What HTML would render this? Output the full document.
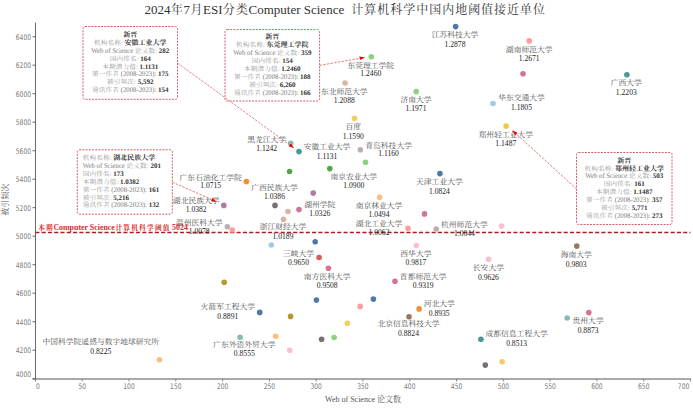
<!DOCTYPE html><html><head><meta charset="utf-8"><style>html,body{margin:0;padding:0;background:#fff;}svg{display:block}.bx{text-rendering:geometricPrecision}.t{font-family:"Liberation Serif", "Noto Serif CJK SC", serif;}.tk{font-family:"DejaVu Sans", sans-serif;font-size:7px;fill:#7a7a7a;}.lb{font-family:"Liberation Serif", "Noto Serif CJK SC", serif;font-size:7.8px;fill:#505050;text-anchor:middle;}.vl{font-family:"Liberation Serif", "Noto Serif CJK SC", serif;font-size:7.6px;fill:#222;text-anchor:middle;}.bx{font-family:"Liberation Serif", "Noto Serif CJK SC", serif;font-size:6.75px;fill:#a8a8a8;}.bx tspan.b{font-weight:bold;fill:#333;font-size:7.0px;}.bx tspan.lt{fill:#7a7a7a;font-size:7.3px;}.bx tspan.c{font-size:6.6px;letter-spacing:0.15px;fill:#999;}</style></head><body>
<svg width="693" height="409" viewBox="0 0 693 409">
<defs><marker id="ar" viewBox="0 0 10 10" refX="9" refY="5" markerWidth="5.5" markerHeight="5.5" orient="auto" markerUnits="userSpaceOnUse"><path d="M0,1.8 L10,5 L0,8.2 z" fill="#e00"/></marker></defs>
<text class="t" x="144.5" y="14.2" font-size="13" fill="#333" xml:space="preserve">2024<tspan dx="0.52" style="font-size:11.96px;letter-spacing:1.04px">年</tspan><tspan dx="-0.52">7</tspan><tspan dx="0.52" style="font-size:11.96px;letter-spacing:1.04px">月</tspan><tspan dx="-0.52">ESI</tspan><tspan dx="0.52" style="font-size:11.96px;letter-spacing:1.04px">分类</tspan><tspan dx="-0.52">Computer Science  </tspan><tspan dx="0.52" style="font-size:11.96px;letter-spacing:1.04px">计算机科学中国内地阈值接近单位</tspan></text>
<line x1="35.5" y1="22.5" x2="35.5" y2="381" stroke="#686868" stroke-width="1"/>
<line x1="32.5" y1="379" x2="690.5" y2="379" stroke="#555" stroke-width="1"/>
<line x1="32.5" y1="378.70" x2="35.5" y2="378.70" stroke="#666" stroke-width="1"/>
<text class="tk" transform="translate(31,377.00) scale(0.855,1.1)" text-anchor="end">4000</text>
<line x1="32.5" y1="350.20" x2="35.5" y2="350.20" stroke="#666" stroke-width="1"/>
<text class="tk" transform="translate(31,353.10) scale(0.855,1.1)" text-anchor="end">4200</text>
<line x1="32.5" y1="321.70" x2="35.5" y2="321.70" stroke="#666" stroke-width="1"/>
<text class="tk" transform="translate(31,324.60) scale(0.855,1.1)" text-anchor="end">4400</text>
<line x1="32.5" y1="293.20" x2="35.5" y2="293.20" stroke="#666" stroke-width="1"/>
<text class="tk" transform="translate(31,296.10) scale(0.855,1.1)" text-anchor="end">4600</text>
<line x1="32.5" y1="264.70" x2="35.5" y2="264.70" stroke="#666" stroke-width="1"/>
<text class="tk" transform="translate(31,267.60) scale(0.855,1.1)" text-anchor="end">4800</text>
<line x1="32.5" y1="236.20" x2="35.5" y2="236.20" stroke="#666" stroke-width="1"/>
<text class="tk" transform="translate(31,239.10) scale(0.855,1.1)" text-anchor="end">5000</text>
<line x1="32.5" y1="207.70" x2="35.5" y2="207.70" stroke="#666" stroke-width="1"/>
<text class="tk" transform="translate(31,210.60) scale(0.855,1.1)" text-anchor="end">5200</text>
<line x1="32.5" y1="179.20" x2="35.5" y2="179.20" stroke="#666" stroke-width="1"/>
<text class="tk" transform="translate(31,182.10) scale(0.855,1.1)" text-anchor="end">5400</text>
<line x1="32.5" y1="150.70" x2="35.5" y2="150.70" stroke="#666" stroke-width="1"/>
<text class="tk" transform="translate(31,153.60) scale(0.855,1.1)" text-anchor="end">5600</text>
<line x1="32.5" y1="122.20" x2="35.5" y2="122.20" stroke="#666" stroke-width="1"/>
<text class="tk" transform="translate(31,125.10) scale(0.855,1.1)" text-anchor="end">5800</text>
<line x1="32.5" y1="93.70" x2="35.5" y2="93.70" stroke="#666" stroke-width="1"/>
<text class="tk" transform="translate(31,96.60) scale(0.855,1.1)" text-anchor="end">6000</text>
<line x1="32.5" y1="65.20" x2="35.5" y2="65.20" stroke="#666" stroke-width="1"/>
<text class="tk" transform="translate(31,68.10) scale(0.855,1.1)" text-anchor="end">6200</text>
<line x1="32.5" y1="36.70" x2="35.5" y2="36.70" stroke="#666" stroke-width="1"/>
<text class="tk" transform="translate(31,39.60) scale(0.855,1.1)" text-anchor="end">6400</text>
<line x1="35.40" y1="378.7" x2="35.40" y2="381.5" stroke="#888" stroke-width="1"/>
<text class="tk" transform="translate(37.90,389.3) scale(0.855,1.1)" text-anchor="middle">0</text>
<line x1="82.19" y1="378.7" x2="82.19" y2="381.5" stroke="#888" stroke-width="1"/>
<text class="tk" transform="translate(82.19,389.3) scale(0.855,1.1)" text-anchor="middle">50</text>
<line x1="128.99" y1="378.7" x2="128.99" y2="381.5" stroke="#888" stroke-width="1"/>
<text class="tk" transform="translate(128.99,389.3) scale(0.855,1.1)" text-anchor="middle">100</text>
<line x1="175.78" y1="378.7" x2="175.78" y2="381.5" stroke="#888" stroke-width="1"/>
<text class="tk" transform="translate(175.78,389.3) scale(0.855,1.1)" text-anchor="middle">150</text>
<line x1="222.58" y1="378.7" x2="222.58" y2="381.5" stroke="#888" stroke-width="1"/>
<text class="tk" transform="translate(222.58,389.3) scale(0.855,1.1)" text-anchor="middle">200</text>
<line x1="269.38" y1="378.7" x2="269.38" y2="381.5" stroke="#888" stroke-width="1"/>
<text class="tk" transform="translate(269.38,389.3) scale(0.855,1.1)" text-anchor="middle">250</text>
<line x1="316.17" y1="378.7" x2="316.17" y2="381.5" stroke="#888" stroke-width="1"/>
<text class="tk" transform="translate(316.17,389.3) scale(0.855,1.1)" text-anchor="middle">300</text>
<line x1="362.96" y1="378.7" x2="362.96" y2="381.5" stroke="#888" stroke-width="1"/>
<text class="tk" transform="translate(362.96,389.3) scale(0.855,1.1)" text-anchor="middle">350</text>
<line x1="409.76" y1="378.7" x2="409.76" y2="381.5" stroke="#888" stroke-width="1"/>
<text class="tk" transform="translate(409.76,389.3) scale(0.855,1.1)" text-anchor="middle">400</text>
<line x1="456.55" y1="378.7" x2="456.55" y2="381.5" stroke="#888" stroke-width="1"/>
<text class="tk" transform="translate(456.55,389.3) scale(0.855,1.1)" text-anchor="middle">450</text>
<line x1="503.35" y1="378.7" x2="503.35" y2="381.5" stroke="#888" stroke-width="1"/>
<text class="tk" transform="translate(503.35,389.3) scale(0.855,1.1)" text-anchor="middle">500</text>
<line x1="550.14" y1="378.7" x2="550.14" y2="381.5" stroke="#888" stroke-width="1"/>
<text class="tk" transform="translate(550.14,389.3) scale(0.855,1.1)" text-anchor="middle">550</text>
<line x1="596.94" y1="378.7" x2="596.94" y2="381.5" stroke="#888" stroke-width="1"/>
<text class="tk" transform="translate(596.94,389.3) scale(0.855,1.1)" text-anchor="middle">600</text>
<line x1="643.73" y1="378.7" x2="643.73" y2="381.5" stroke="#888" stroke-width="1"/>
<text class="tk" transform="translate(643.73,389.3) scale(0.855,1.1)" text-anchor="middle">650</text>
<line x1="690.53" y1="378.7" x2="690.53" y2="381.5" stroke="#888" stroke-width="1"/>
<text class="tk" transform="translate(683.53,389.3) scale(0.855,1.1)" text-anchor="middle">700</text>
<text class="t" x="363" y="402" font-size="8" fill="#555" text-anchor="middle">Web of Science 论文数</text>
<text class="t" transform="translate(7.5,199.7) rotate(-90)" font-size="8" fill="#555" text-anchor="middle">被引频次</text>
<line x1="35.3" y1="232.4" x2="690.5" y2="232.4" stroke="#a82025" stroke-width="1.5" stroke-dasharray="4.1,2.19"/>
<text class="t" x="37.6" y="230" font-size="7.9" font-weight="bold" fill="#d62a2a" xml:space="preserve"><tspan dx="0.59" style="font-size:6.71px;letter-spacing:1.19px">本期</tspan><tspan dx="-0.59">Computer Science</tspan><tspan dx="0.59" style="font-size:6.71px;letter-spacing:1.19px">计算机科学阈值</tspan><tspan dx="-0.59"> 5024</tspan></text>
<circle cx="455.6" cy="26.6" r="2.8" fill="#4e79a7"/>
<circle cx="529.2" cy="40.9" r="2.8" fill="#ff9d9a"/>
<circle cx="371.3" cy="56.8" r="2.8" fill="#8cd17d"/>
<circle cx="523" cy="73.8" r="2.8" fill="#d37295"/>
<circle cx="626.9" cy="74.7" r="2.8" fill="#499894"/>
<circle cx="345.1" cy="83" r="2.8" fill="#d7b5a6"/>
<circle cx="416.2" cy="91.6" r="2.8" fill="#8cd17d"/>
<circle cx="493" cy="103.5" r="2.8" fill="#a0cbe8"/>
<circle cx="354.5" cy="118.4" r="2.8" fill="#f1ce63"/>
<circle cx="506.1" cy="126.1" r="2.8" fill="#edc948"/>
<circle cx="290.7" cy="143.3" r="2.8" fill="#86bcb6"/>
<circle cx="299" cy="151.6" r="2.8" fill="#499894"/>
<circle cx="360.3" cy="149.8" r="2.8" fill="#bab0ac"/>
<circle cx="365.5" cy="162.3" r="2.8" fill="#8cd17d"/>
<circle cx="329.8" cy="168.6" r="2.8" fill="#59a14f"/>
<circle cx="289.6" cy="171.5" r="2.8" fill="#59a14f"/>
<circle cx="439.9" cy="173.6" r="2.8" fill="#4e79a7"/>
<circle cx="246.4" cy="181.6" r="2.8" fill="#f28e2b"/>
<circle cx="313.2" cy="193.1" r="2.8" fill="#b07aa1"/>
<circle cx="379.6" cy="197.3" r="2.8" fill="#ffbe7d"/>
<circle cx="223.8" cy="205.4" r="2.8" fill="#b07aa1"/>
<circle cx="275" cy="205.4" r="2.8" fill="#79706e"/>
<circle cx="299" cy="209.6" r="2.8" fill="#d37295"/>
<circle cx="288" cy="211.5" r="2.8" fill="#d7b5a6"/>
<circle cx="424.5" cy="213.9" r="2.8" fill="#d37295"/>
<circle cx="283.5" cy="219.4" r="2.8" fill="#d7b5a6"/>
<circle cx="227.4" cy="226.7" r="2.8" fill="#bab0ac"/>
<circle cx="232.3" cy="230" r="2.8" fill="#ff9d9a"/>
<circle cx="408" cy="228.3" r="2.8" fill="#ff9d9a"/>
<circle cx="436.2" cy="229" r="2.8" fill="#bab0ac"/>
<circle cx="501.5" cy="226.1" r="2.8" fill="#fabfd2"/>
<circle cx="271.3" cy="245" r="2.8" fill="#a0cbe8"/>
<circle cx="315.2" cy="241.8" r="2.8" fill="#4e79a7"/>
<circle cx="416.4" cy="245.5" r="2.8" fill="#fabfd2"/>
<circle cx="576.8" cy="246.1" r="2.8" fill="#9d7660"/>
<circle cx="319.1" cy="257.5" r="2.8" fill="#e15759"/>
<circle cx="488.6" cy="259.3" r="2.8" fill="#fabfd2"/>
<circle cx="328.4" cy="268.2" r="2.8" fill="#d37295"/>
<circle cx="395" cy="281.2" r="2.8" fill="#d37295"/>
<circle cx="224.2" cy="282.2" r="2.8" fill="#b6992d"/>
<circle cx="316.4" cy="300.1" r="2.8" fill="#4e79a7"/>
<circle cx="373.4" cy="299.1" r="2.8" fill="#4e79a7"/>
<circle cx="360.2" cy="306.4" r="2.8" fill="#ff9d9a"/>
<circle cx="419.1" cy="308.9" r="2.8" fill="#f28e2b"/>
<circle cx="259.7" cy="312.4" r="2.8" fill="#4e79a7"/>
<circle cx="290.6" cy="316.4" r="2.8" fill="#b6992d"/>
<circle cx="409" cy="316.7" r="2.8" fill="#9d7660"/>
<circle cx="347.4" cy="323.2" r="2.8" fill="#f1ce63"/>
<circle cx="567.2" cy="318" r="2.8" fill="#86bcb6"/>
<circle cx="588.8" cy="312.6" r="2.8" fill="#d37295"/>
<circle cx="240.1" cy="337.3" r="2.8" fill="#86bcb6"/>
<circle cx="275.7" cy="336.3" r="2.8" fill="#ffbe7d"/>
<circle cx="321.6" cy="339.3" r="2.8" fill="#79706e"/>
<circle cx="334.1" cy="337.5" r="2.8" fill="#8cd17d"/>
<circle cx="480.9" cy="339.2" r="2.8" fill="#499894"/>
<circle cx="289.7" cy="350.3" r="2.8" fill="#fabfd2"/>
<circle cx="485.3" cy="365.1" r="2.8" fill="#79706e"/>
<circle cx="502.2" cy="361.7" r="2.8" fill="#f1ce63"/>
<circle cx="159.5" cy="359.7" r="2.8" fill="#ffbe7d"/>
<text class="lb" transform="translate(455,37.22) scale(1,0.85)">江苏科技大学</text>
<text class="vl" x="455" y="46.50">1.2878</text>
<text class="lb" transform="translate(529.2,51.92) scale(1,0.85)">湖南师范大学</text>
<text class="vl" x="529.2" y="61.30">1.2671</text>
<text class="lb" transform="translate(370.8,67.62) scale(1,0.85)">东莞理工学院</text>
<text class="vl" x="370.8" y="76.10">1.2460</text>
<text class="lb" transform="translate(626.3,85.12) scale(1,0.85)">广西大学</text>
<text class="vl" x="626.3" y="94.50">1.2203</text>
<text class="lb" transform="translate(344.3,93.82) scale(1,0.85)">东北师范大学</text>
<text class="vl" x="344.3" y="102.60">1.2088</text>
<text class="lb" transform="translate(416,102.42) scale(1,0.85)">济南大学</text>
<text class="vl" x="416" y="110.70">1.1971</text>
<text class="lb" transform="translate(521.5,100.42) scale(1,0.85)">华东交通大学</text>
<text class="vl" x="521.5" y="109.90">1.1805</text>
<text class="lb" transform="translate(353.3,128.52) scale(1,0.85)">百度</text>
<text class="vl" x="353.3" y="138.50">1.1590</text>
<text class="lb" transform="translate(505.8,136.52) scale(1,0.85)">郑州轻工业大学</text>
<text class="vl" x="505.8" y="145.90">1.1487</text>
<text class="lb" transform="translate(266.7,141.52) scale(1,0.85)">黑龙江大学</text>
<text class="vl" x="266.7" y="150.70">1.1242</text>
<text class="lb" transform="translate(327,149.32) scale(1,0.85)">安徽工业大学</text>
<text class="vl" x="327" y="158.90">1.1131</text>
<text class="lb" transform="translate(388.6,147.62) scale(1,0.85)">青岛科技大学</text>
<text class="vl" x="388.6" y="156.40">1.1160</text>
<text class="lb" transform="translate(353.8,179.22) scale(1,0.85)">南京农业大学</text>
<text class="vl" x="353.8" y="188.30">1.0900</text>
<text class="lb" transform="translate(439.4,183.72) scale(1,0.85)">天津工业大学</text>
<text class="vl" x="439.4" y="193.70">1.0824</text>
<text class="lb" transform="translate(210.7,179.72) scale(1,0.85)">广东石油化工学院</text>
<text class="vl" x="210.7" y="187.60">1.0715</text>
<text class="lb" transform="translate(274.5,189.72) scale(1,0.85)">广西民族大学</text>
<text class="vl" x="274.5" y="199.20">1.0386</text>
<text class="lb" transform="translate(379,207.72) scale(1,0.85)">南京林业大学</text>
<text class="vl" x="379" y="217.20">1.0494</text>
<text class="lb" transform="translate(196.2,203.12) scale(1,0.85)">湖北民族大学</text>
<text class="vl" x="196.2" y="211.70">1.0382</text>
<text class="lb" transform="translate(319.8,207.42) scale(1,0.85)">湖州学院</text>
<text class="vl" x="319.8" y="216.10">1.0326</text>
<text class="lb" transform="translate(199.2,224.72) scale(1,0.85)">温州医科大学</text>
<text class="vl" x="199.2" y="233.50">1.0078</text>
<text class="lb" transform="translate(283,229.42) scale(1,0.85)">浙江财经大学</text>
<text class="vl" x="283" y="238.90">1.0189</text>
<text class="lb" transform="translate(379,226.42) scale(1,0.85)">湖北工业大学</text>
<text class="vl" x="379" y="235.20">1.0062</text>
<text class="lb" transform="translate(464.4,227.42) scale(1,0.85)">杭州师范大学</text>
<text class="vl" x="464.4" y="236.10">1.0044</text>
<text class="lb" transform="translate(415.9,255.82) scale(1,0.85)">西华大学</text>
<text class="vl" x="415.9" y="265.10">0.9817</text>
<text class="lb" transform="translate(576.2,257.12) scale(1,0.85)">海南大学</text>
<text class="vl" x="576.2" y="266.50">0.9803</text>
<text class="lb" transform="translate(298.5,255.52) scale(1,0.85)">三峡大学</text>
<text class="vl" x="298.5" y="265.00">0.9650</text>
<text class="lb" transform="translate(488.4,270.12) scale(1,0.85)">长安大学</text>
<text class="vl" x="488.4" y="279.60">0.9626</text>
<text class="lb" transform="translate(327.2,279.02) scale(1,0.85)">南方医科大学</text>
<text class="vl" x="327.2" y="288.30">0.9508</text>
<text class="lb" transform="translate(423.2,279.02) scale(1,0.85)">首都师范大学</text>
<text class="vl" x="423.2" y="288.00">0.9319</text>
<text class="lb" transform="translate(439.2,306.22) scale(1,0.85)">河北大学</text>
<text class="vl" x="439.2" y="315.50">0.8935</text>
<text class="lb" transform="translate(227.8,309.42) scale(1,0.85)">火箭军工程大学</text>
<text class="vl" x="227.8" y="318.90">0.8891</text>
<text class="lb" transform="translate(408.5,326.32) scale(1,0.85)">北京信息科技大学</text>
<text class="vl" x="408.5" y="336.30">0.8824</text>
<text class="lb" transform="translate(588.1,323.22) scale(1,0.85)">贵州大学</text>
<text class="vl" x="588.1" y="333.20">0.8873</text>
<text class="lb" transform="translate(516.6,336.22) scale(1,0.85)">成都信息工程大学</text>
<text class="vl" x="516.6" y="346.20">0.8513</text>
<text class="lb" transform="translate(244.3,346.92) scale(1,0.85)">广东外语外贸大学</text>
<text class="vl" x="244.3" y="355.60">0.8555</text>
<text class="lb" transform="translate(100.8,344.02) scale(1,0.85)">中国科学院遥感与数字地球研究所</text>
<text class="vl" x="100.8" y="354.00">0.8225</text>
<rect x="83" y="26.5" width="94.5" height="72.8" rx="2" fill="none" stroke="#cf5f6b" stroke-width="1" stroke-dasharray="2,1.2"/>
<text class="bx" x="130.25" text-anchor="middle" y="37.10"><tspan class="b">新晋</tspan></text>
<text class="bx" x="130.25" text-anchor="middle" y="44.97" xml:space="preserve"><tspan class="c">机构名称</tspan>: <tspan class="b">安徽工业大学</tspan></text>
<text class="bx" x="130.25" text-anchor="middle" y="52.84" xml:space="preserve"><tspan class="lt" textLength="43.875" lengthAdjust="spacingAndGlyphs">Web of Science </tspan><tspan class="c">论文数</tspan>: <tspan class="b">282</tspan></text>
<text class="bx" x="130.25" text-anchor="middle" y="60.71" xml:space="preserve"><tspan class="c">国内排名</tspan>: <tspan class="b">164</tspan></text>
<text class="bx" x="130.25" text-anchor="middle" y="68.58" xml:space="preserve"><tspan class="c">本期潜力值</tspan>: <tspan class="b">1.1131</tspan></text>
<text class="bx" x="130.25" text-anchor="middle" y="76.45" xml:space="preserve"><tspan class="c">第一作者</tspan><tspan class="lt" textLength="39.0" lengthAdjust="spacingAndGlyphs"> (2008-2023): </tspan><tspan class="b">175</tspan></text>
<text class="bx" x="130.25" text-anchor="middle" y="84.32" xml:space="preserve"><tspan class="c">被引频次</tspan>: <tspan class="b">5,592</tspan></text>
<text class="bx" x="130.25" text-anchor="middle" y="92.19" xml:space="preserve"><tspan class="c">通讯作者</tspan><tspan class="lt" textLength="39.0" lengthAdjust="spacingAndGlyphs"> (2008-2023): </tspan><tspan class="b">154</tspan></text>
<rect x="225" y="29.6" width="94.60000000000002" height="71.4" rx="2" fill="none" stroke="#cf5f6b" stroke-width="1" stroke-dasharray="2,1.2"/>
<text class="bx" x="272.30" text-anchor="middle" y="38.80"><tspan class="b">新晋</tspan></text>
<text class="bx" x="272.30" text-anchor="middle" y="46.80" xml:space="preserve"><tspan class="c">机构名称</tspan>: <tspan class="b">东莞理工学院</tspan></text>
<text class="bx" x="272.30" text-anchor="middle" y="54.80" xml:space="preserve"><tspan class="lt" textLength="43.875" lengthAdjust="spacingAndGlyphs">Web of Science </tspan><tspan class="c">论文数</tspan>: <tspan class="b">359</tspan></text>
<text class="bx" x="272.30" text-anchor="middle" y="62.80" xml:space="preserve"><tspan class="c">国内排名</tspan>: <tspan class="b">154</tspan></text>
<text class="bx" x="272.30" text-anchor="middle" y="70.80" xml:space="preserve"><tspan class="c">本期潜力值</tspan>: <tspan class="b">1.2460</tspan></text>
<text class="bx" x="272.30" text-anchor="middle" y="78.80" xml:space="preserve"><tspan class="c">第一作者</tspan><tspan class="lt" textLength="39.0" lengthAdjust="spacingAndGlyphs"> (2008-2023): </tspan><tspan class="b">188</tspan></text>
<text class="bx" x="272.30" text-anchor="middle" y="86.80" xml:space="preserve"><tspan class="c">被引频次</tspan>: <tspan class="b">6,260</tspan></text>
<text class="bx" x="272.30" text-anchor="middle" y="94.80" xml:space="preserve"><tspan class="c">通讯作者</tspan><tspan class="lt" textLength="39.0" lengthAdjust="spacingAndGlyphs"> (2008-2023): </tspan><tspan class="b">166</tspan></text>
<rect x="77.3" y="149.8" width="95.00000000000001" height="64.39999999999998" rx="2" fill="none" stroke="#cf5f6b" stroke-width="1" stroke-dasharray="2,1.2"/>
<text class="bx" x="82.7" y="159.60" xml:space="preserve"><tspan class="c">机构名称</tspan>: <tspan class="b">湖北民族大学</tspan></text>
<text class="bx" x="82.7" y="167.58" xml:space="preserve"><tspan class="lt" textLength="43.875" lengthAdjust="spacingAndGlyphs">Web of Science </tspan><tspan class="c">论文数</tspan>: <tspan class="b">201</tspan></text>
<text class="bx" x="82.7" y="175.56" xml:space="preserve"><tspan class="c">国内排名</tspan>: <tspan class="b">173</tspan></text>
<text class="bx" x="82.7" y="183.54" xml:space="preserve"><tspan class="c">本期潜力值</tspan>: <tspan class="b">1.0382</tspan></text>
<text class="bx" x="82.7" y="191.52" xml:space="preserve"><tspan class="c">第一作者</tspan><tspan class="lt" textLength="39.0" lengthAdjust="spacingAndGlyphs"> (2008-2023): </tspan><tspan class="b">161</tspan></text>
<text class="bx" x="82.7" y="199.50" xml:space="preserve"><tspan class="c">被引频次</tspan>: <tspan class="b">5,216</tspan></text>
<text class="bx" x="82.7" y="207.48" xml:space="preserve"><tspan class="c">通讯作者</tspan><tspan class="lt" textLength="39.0" lengthAdjust="spacingAndGlyphs"> (2008-2023): </tspan><tspan class="b">132</tspan></text>
<rect x="576.5" y="152.5" width="95.5" height="72.0" rx="2" fill="none" stroke="#cf5f6b" stroke-width="1" stroke-dasharray="2,1.2"/>
<text class="bx" x="624.25" text-anchor="middle" y="162.60"><tspan class="b">新晋</tspan></text>
<text class="bx" x="624.25" text-anchor="middle" y="170.50" xml:space="preserve"><tspan class="c">机构名称</tspan>: <tspan class="b">郑州轻工业大学</tspan></text>
<text class="bx" x="624.25" text-anchor="middle" y="178.40" xml:space="preserve"><tspan class="lt" textLength="43.875" lengthAdjust="spacingAndGlyphs">Web of Science </tspan><tspan class="c">论文数</tspan>: <tspan class="b">503</tspan></text>
<text class="bx" x="624.25" text-anchor="middle" y="186.30" xml:space="preserve"><tspan class="c">国内排名</tspan>: <tspan class="b">161</tspan></text>
<text class="bx" x="624.25" text-anchor="middle" y="194.20" xml:space="preserve"><tspan class="c">本期潜力值</tspan>: <tspan class="b">1.1487</tspan></text>
<text class="bx" x="624.25" text-anchor="middle" y="202.10" xml:space="preserve"><tspan class="c">第一作者</tspan><tspan class="lt" textLength="39.0" lengthAdjust="spacingAndGlyphs"> (2008-2023): </tspan><tspan class="b">357</tspan></text>
<text class="bx" x="624.25" text-anchor="middle" y="210.00" xml:space="preserve"><tspan class="c">被引频次</tspan>: <tspan class="b">5,771</tspan></text>
<text class="bx" x="624.25" text-anchor="middle" y="217.90" xml:space="preserve"><tspan class="c">通讯作者</tspan><tspan class="lt" textLength="39.0" lengthAdjust="spacingAndGlyphs"> (2008-2023): </tspan><tspan class="b">273</tspan></text>
<line x1="177.5" y1="63" x2="293.6" y2="147.7" stroke="#e07070" stroke-width="0.9" stroke-dasharray="2.4,1.3" marker-end="url(#ar)"/>
<line x1="319.6" y1="65.4" x2="364.5" y2="57.5" stroke="#e07070" stroke-width="0.9" stroke-dasharray="2.4,1.3" marker-end="url(#ar)"/>
<line x1="172.3" y1="182.1" x2="216.2" y2="201.6" stroke="#e07070" stroke-width="0.9" stroke-dasharray="2.4,1.3" marker-end="url(#ar)"/>
<line x1="576.5" y1="189" x2="512.6" y2="130.6" stroke="#e07070" stroke-width="0.9" stroke-dasharray="2.4,1.3" marker-end="url(#ar)"/>
</svg></body></html>
